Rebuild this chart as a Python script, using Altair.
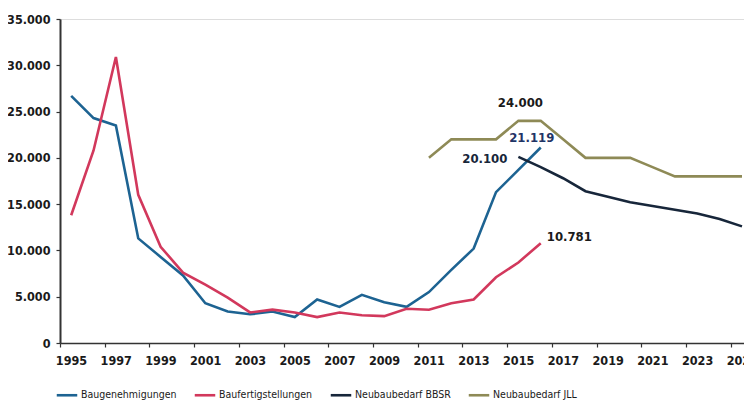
import altair as alt
import pandas as pd

# ---- data ----
years_bg = list(range(1995, 2017))
baugenehmigungen = [26700, 24300, 23500, 11300, 9300, 7300, 4300, 3400, 3100, 3400, 2800,
                    4700, 3900, 5200, 4400, 3900, 5500, 7900, 10200, 16300, 18700, 21119]
years_bf = list(range(1995, 2017))
baufertigstellungen = [13800, 20800, 30900, 16000, 10400, 7600, 6300, 4900, 3300, 3600, 3300,
                       2800, 3300, 3000, 2900, 3700, 3600, 4300, 4700, 7100, 8700, 10781]
years_bbsr = list(range(2015, 2026))
bedarf_bbsr = [20100, 19000, 17800, 16400, 15800, 15200, 14800, 14400, 14000, 13400, 12600]
years_jll = list(range(2011, 2026))
bedarf_jll = [20000, 22000, 22000, 22000, 24000, 24000, 22000, 20000, 20000, 20000, 19000,
              18000, 18000, 18000, 18000]

series_names = ["Baugenehmigungen", "Baufertigstellungen", "Neubaubedarf BBSR", "Neubaubedarf JLL"]
series_colors = ["#1d6392", "#d2385c", "#17263a", "#8e8a56"]
series_widths = [2.6, 2.6, 2.6, 2.0]

ann_years = [2015, 2016, 2015, 2016]
ann_values = [24000, 21119, 20100, 10781]
ann_texts = ["24.000", "21.119", "20.100", "10.781"]

y_ticks = [0, 5000, 10000, 15000, 20000, 25000, 30000, 35000]
all_years = list(range(1995, 2026))

rows = []
for name, ys, vs in zip(series_names,
                        [years_bg, years_bf, years_bbsr, years_jll],
                        [baugenehmigungen, baufertigstellungen, bedarf_bbsr, bedarf_jll]):
    for y, v in zip(ys, vs):
        rows.append({"series": name, "year": y, "value": v})
df = pd.DataFrame(rows)

FONT = "DejaVu Sans Condensed, sans-serif"

x_scale = alt.Scale(domain=[1994.5, 2025.09], nice=False, zero=False)
y_scale = alt.Scale(domain=[0, 35000], nice=False)

x_axis = alt.Axis(
    values=[y - 0.5 for y in all_years],
    labelExpr="(datum.value + 0.5) % 2 == 1 ? toString(datum.value + 0.5) : ''",
    labelOffset=11, labelOverlap=False, labelFlush=False, labelBound=False,
    tickSize=4, tickColor="#333", tickWidth=1.2,
    domainColor="#333", domainWidth=1.5,
    labelFont=FONT, labelFontSize=12.5, labelFontWeight="bold", labelColor="#1a1a1a",
    labelPadding=7, grid=False, title=None,
)
y_axis = alt.Axis(
    values=y_ticks,
    labelExpr="replace(format(datum.value, ','), ',', '.')",
    tickSize=4, tickColor="#333", tickWidth=1.2,
    domainColor="#333", domainWidth=2,
    labelFont=FONT, labelFontSize=12.5, labelFontWeight="bold", labelColor="#1a1a1a",
    labelPadding=6, grid=False, title=None,
)

lines = alt.Chart(df).mark_line().encode(
    x=alt.X("year:Q", scale=x_scale, axis=x_axis),
    y=alt.Y("value:Q", scale=y_scale, axis=y_axis),
    color=alt.Color("series:N",
                    scale=alt.Scale(domain=series_names, range=series_colors),
                    sort=series_names,
                    legend=alt.Legend(
                        orient="none", legendX=-5, legendY=364, direction="horizontal",
                        columns=4, title=None, symbolType="stroke", symbolStrokeWidth=3.5,
                        symbolSize=420, labelFont=FONT, labelFontSize=10.5,
                        labelColor="#1a1a1a", columnPadding=12, labelOffset=2,
                        padding=0,
                    )),
    strokeWidth=alt.StrokeWidth("series:N",
                                scale=alt.Scale(domain=series_names, range=series_widths),
                                legend=None),
    detail="series:N",
)

ann_df = pd.DataFrame({"year": ann_years, "value": ann_values, "text": ann_texts})
ann_styles = [
    dict(dx=2, dy=-18, align="center", color="#1a1a1a"),
    dict(dx=-9, dy=-9, align="center", color="#1f3466"),
    dict(dx=-11, dy=2, align="right", color="#17263a"),
    dict(dx=6, dy=-6, align="left", color="#1a1a1a"),
]
texts = []
for i, st in enumerate(ann_styles):
    texts.append(
        alt.Chart(ann_df.iloc[[i]]).mark_text(
            font=FONT, fontSize=13, fontWeight="bold", baseline="middle",
            align=st["align"], dx=st["dx"], dy=st["dy"], color=st["color"],
        ).encode(
            x=alt.X("year:Q", scale=x_scale),
            y=alt.Y("value:Q", scale=y_scale),
            text="text:N",
        )
    )

chart = alt.layer(lines, *texts).properties(
    width=684, height=324,
    padding={"left": 52, "top": 11, "right": 0, "bottom": 60},
    autosize=alt.AutoSizeParams(type="none"),
).configure_view(stroke=None).configure(background="white")

chart.save("out.html", embed_options={"renderer": "svg", "actions": False})
